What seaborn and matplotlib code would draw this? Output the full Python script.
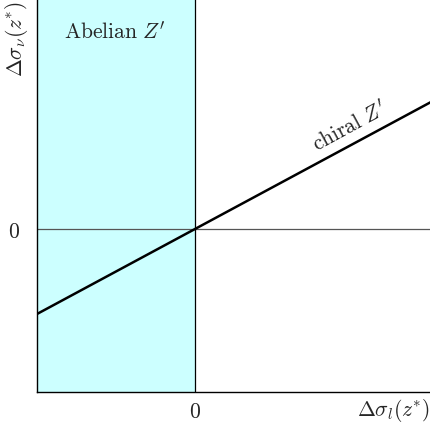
import numpy as np
import matplotlib
matplotlib.use("Agg")
import matplotlib.pyplot as plt
import seaborn as sns

# data (arbitrary units, origin at centre cross)
line_x = [-1.58, 2.36]
line_y = [-0.85, 1.27]
x_lim = [-1.58, 2.36]
y_lim = [-1.63, 2.30]
ticks = [0]

sns.set_style("white")
plt.rcParams['font.family'] = ['DejaVu Serif']
plt.rcParams['mathtext.fontset'] = 'cm'
fs = 15.5

fig = plt.figure(figsize=(4.31, 4.27), dpi=100)
ax = fig.add_axes([37 / 431, 34 / 427, 1 - 37 / 431, 393 / 427])

# shaded region for Abelian Z'
ax.axvspan(x_lim[0], 0, color='#ccffff', lw=0, zorder=0)
ax.axhline(0, color='#555555', lw=0.9, zorder=1)
ax.axvline(0, color='black', lw=0.9, zorder=1)
sns.lineplot(x=line_x, y=line_y, color='black', lw=1.8, ax=ax, zorder=3)

ax.set_xlim(x_lim)
ax.set_ylim(y_lim)
ax.set_xticks(ticks)
ax.set_yticks(ticks)
ax.set_xticklabels([r'$0$'], fontsize=fs)
ax.set_yticklabels([r'$0$'], fontsize=fs)
ax.tick_params(axis='x', length=0, pad=6)
ax.tick_params(axis='y', length=0, pad=12)

for s in ['top', 'right']:
    ax.spines[s].set_visible(False)
for s in ['left', 'bottom']:
    ax.spines[s].set_color('black')
    ax.spines[s].set_linewidth(1.0)

ax.text(-0.80, 1.97, r"$\mathrm{Abelian}\ Z^{\prime}$", fontsize=fs,
        ha='center', va='center')
ax.text(1.55, 1.03, r"$\mathrm{chiral}\ Z^{\prime}$", fontsize=fs,
        ha='center', va='center', rotation=28.5, rotation_mode='anchor')

ax.text(0.997, -0.045, r'$\Delta\sigma_l(z^{*})$', fontsize=fs,
        ha='right', va='center', transform=ax.transAxes)
ax.text(-0.052, 0.9, r'$\Delta\sigma_\nu(z^{*})$', fontsize=fs,
        ha='center', va='center', rotation=90, transform=ax.transAxes)

fig.savefig('out.png', dpi=100)
